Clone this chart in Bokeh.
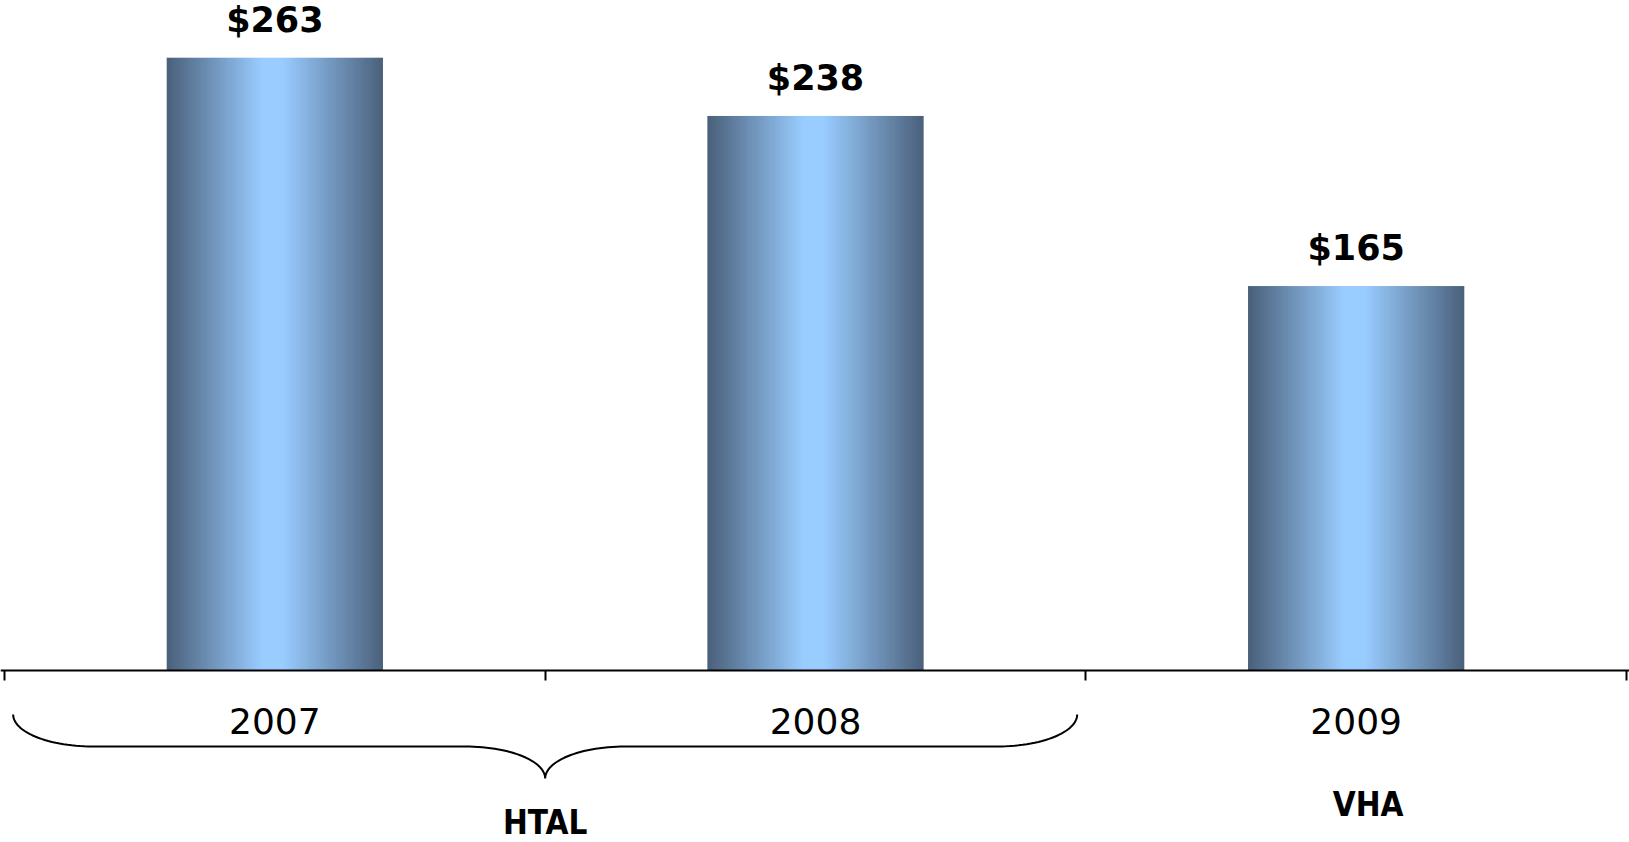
import numpy as np
from bokeh.plotting import figure
from bokeh.models import Range1d, FixedTicker, LinearAxis
from bokeh.core.properties import value
from bokeh.embed import file_html
from bokeh.resources import INLINE

# ---- data ----
categories = ["2007", "2008", "2009"]
amounts = [263, 238, 165]
value_labels = ["$263", "$238", "$165"]
groups = ["HTAL", "VHA"]
group_members = [["2007", "2008"], ["2009"]]

# ---- layout constants ----
W, H = 1629, 842
PX_PER_UNIT = 2.33          # vertical px per dollar
AXIS_Y = 670                # canvas px of the category axis
X_LEFT, X_RIGHT = 4, 1626   # canvas px of first / last category boundary
x_px = (X_RIGHT - X_LEFT) / len(categories)
x0 = -X_LEFT / x_px
x1 = (W - X_LEFT) / x_px
y_top = AXIS_Y / PX_PER_UNIT
y_bot = -(H - AXIS_Y) / PX_PER_UNIT
BAR_W = 0.4
TEXT_SHIFT = -13            # px correction of the rendered text baseline

p = figure(width=W, height=H, x_range=Range1d(x0, x1),
           y_range=Range1d(y_bot, y_top), output_backend="svg",
           toolbar_location=None, x_axis_type=None, y_axis_type=None,
           min_border=0, outline_line_color=None, background_fill_color="white",
           border_fill_color="white")
p.grid.visible = False

# gradient image for bars (dark edges, light centre)
M = 240
t = (np.arange(M) + 0.5) / M
f = np.clip(np.minimum(t / 0.44, (1 - t) / 0.46), 0, 1)
dark = np.array([74, 96, 122])
light = np.array([153, 204, 255])
rgb = dark[None, :] + f[:, None] * (light - dark)[None, :]
img = np.zeros((1, M), dtype=np.uint32)
view = img.view(dtype=np.uint8).reshape((1, M, 4))
view[0, :, 0] = rgb[:, 0].round()
view[0, :, 1] = rgb[:, 1].round()
view[0, :, 2] = rgb[:, 2].round()
view[0, :, 3] = 255

centers = [i + 0.5 for i in range(len(categories))]
p.image_rgba(image=[img] * len(amounts),
             x=[c - BAR_W / 2 for c in centers], y=[0] * len(amounts),
             dw=[BAR_W] * len(amounts), dh=amounts)

# value labels
p.text(x=centers, y=amounts, text=value_labels, text_align="center",
       text_baseline="alphabetic", y_offset=-25 + TEXT_SHIFT,
       text_font=value("DejaVu Sans"), text_font_style="bold",
       text_font_size="35px", text_color="black")

# category axis at y = 0
xaxis = LinearAxis(
    ticker=FixedTicker(ticks=centers, minor_ticks=list(range(len(categories) + 1))),
    major_label_overrides={c: lab for c, lab in zip(centers, categories)},
    fixed_location=0, axis_line_width=2, axis_line_color="black",
    major_tick_out=0, major_tick_in=0, minor_tick_out=10, minor_tick_in=0,
    minor_tick_line_width=2, minor_tick_line_color="black",
    major_label_text_font="DejaVu Sans", major_label_text_font_size="36px",
    major_label_text_color="black", major_label_standoff=27)
p.add_layout(xaxis, "below")

# braces and group labels
BRACE_TOP = -(714 - AXIS_Y) / PX_PER_UNIT
RY = 32 / PX_PER_UNIT
RX = 80 / x_px
INSET = 0.016


def brace_path(a, b):
    xm = (a + b) / 2
    ymid = BRACE_TOP - RY
    th = np.linspace(0, np.pi / 2, 30)
    xs, ys = [], []
    xs += list(a + RX - RX * np.cos(th)); ys += list(BRACE_TOP - RY * np.sin(th))
    xs += list(xm - RX + RX * np.sin(th)); ys += list(ymid - RY + RY * np.cos(th))
    xs += list(xm + RX - RX * np.cos(th)); ys += list(ymid - RY + RY * np.sin(th))
    xs += list(b - RX + RX * np.sin(th)); ys += list(ymid + RY * (1 - np.cos(th)))
    return xs, ys


for g, members in zip(groups, group_members):
    idx = [categories.index(m) for m in members]
    g0, g1 = min(idx), max(idx) + 1
    gx = (g0 + g1) / 2
    if len(members) > 1:
        bx, by = brace_path(g0 + INSET, g1 - INSET)
        p.line(bx, by, line_color="black", line_width=2)
        ly, xo = BRACE_TOP - 2 * RY - 57 / PX_PER_UNIT, 0
    else:
        ly, xo = -(817 - AXIS_Y) / PX_PER_UNIT, 12
    p.text(x=[gx], y=[ly], text=[g], text_align="center", text_baseline="alphabetic",
           x_offset=xo, y_offset=TEXT_SHIFT, text_font=value("DejaVu Sans Condensed"),
           text_font_style="bold", text_font_size="33px", text_color="black")

open("out.html", "w").write(file_html(p, INLINE))
